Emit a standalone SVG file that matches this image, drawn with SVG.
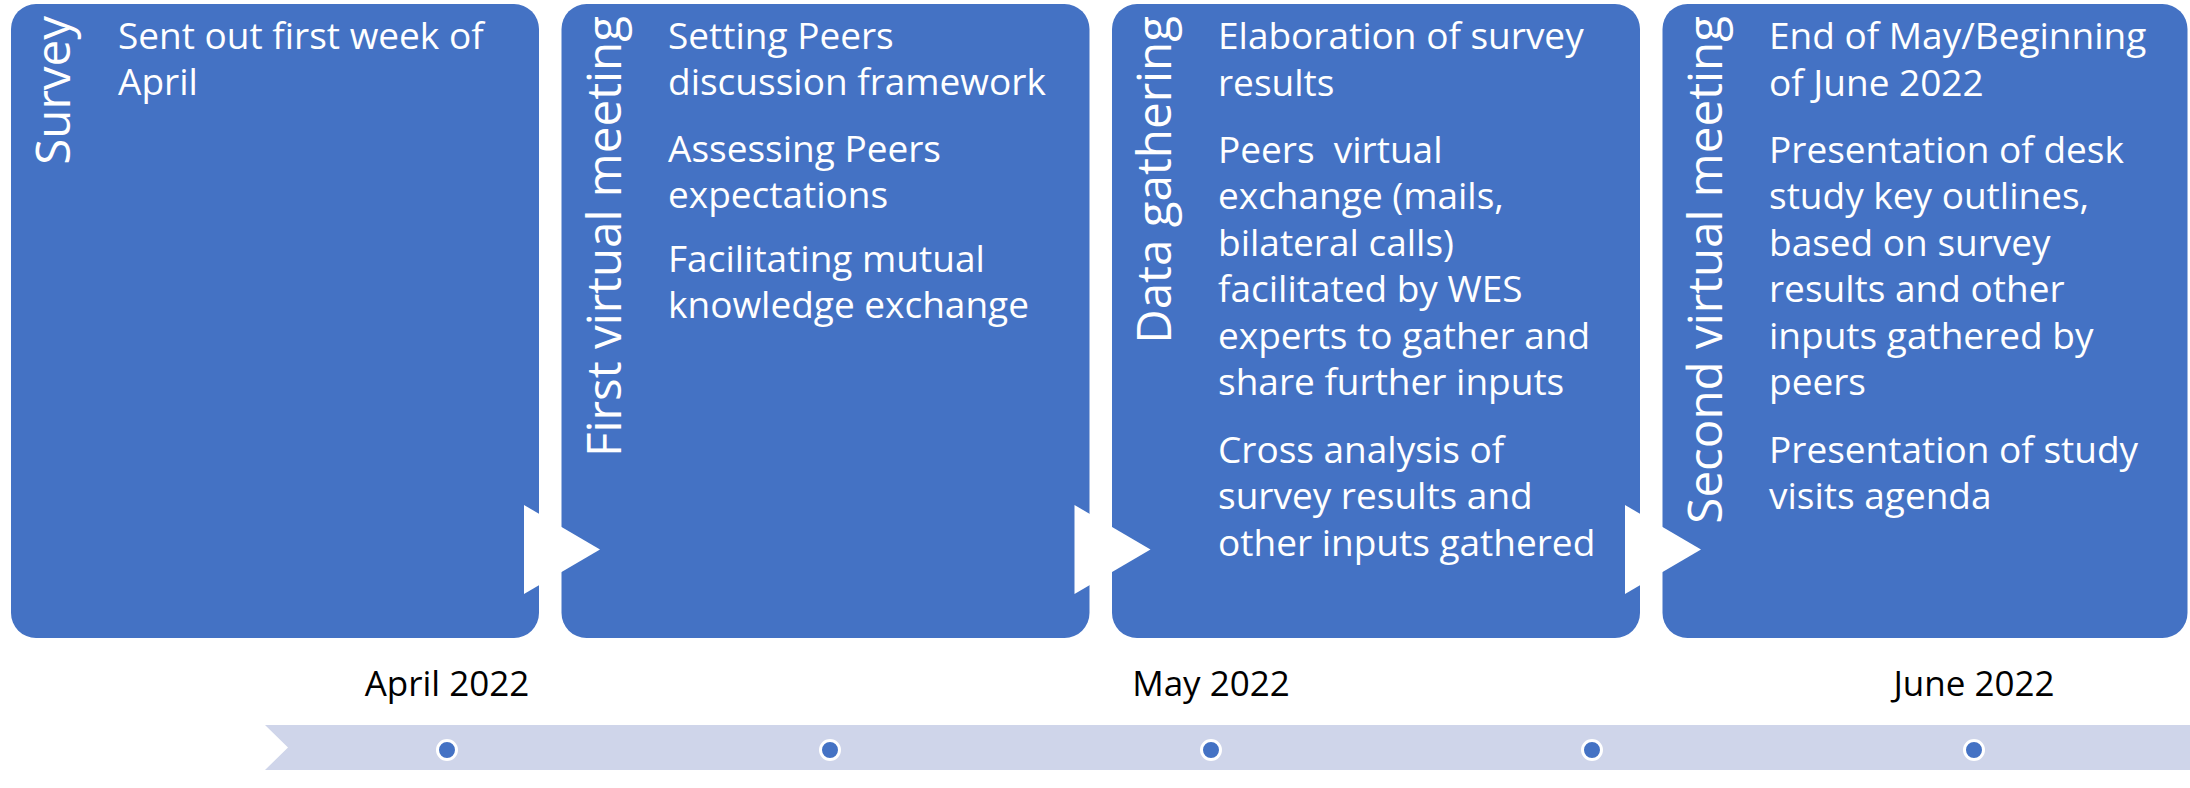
<svg xmlns="http://www.w3.org/2000/svg" width="2190" height="788" viewBox="0 0 2190 788">
<style>
.box{fill:#4472C4}
.tri{fill:#FFFFFF}
.title{font-family:"Open Sans","Liberation Sans",sans-serif;font-size:47.5px;fill:#FFFFFF;text-anchor:end}
.body{font-family:"Open Sans","Liberation Sans",sans-serif;font-size:37px;fill:#FFFFFF}
.month{font-family:"Open Sans","Liberation Sans",sans-serif;font-size:35px;fill:#000000;text-anchor:middle}
.band{fill:#CFD5EA}
.dot{fill:#4472C4;stroke:#FFFFFF;stroke-width:3}
</style>
<rect width="2190" height="788" fill="#FFFFFF"/>
<g id="timeline">
<polygon class="band" points="265,725 2190,725 2190,770 265,770 288,747.5"/>
<circle class="dot" cx="447" cy="750" r="9.5"/>
<circle class="dot" cx="830" cy="750" r="9.5"/>
<circle class="dot" cx="1211" cy="750" r="9.5"/>
<circle class="dot" cx="1592" cy="750" r="9.5"/>
<circle class="dot" cx="1974" cy="750" r="9.5"/>
<text class="month" x="447" y="696">April 2022</text>
<text class="month" x="1211" y="696">May 2022</text>
<text class="month" x="1974" y="696">June 2022</text>
</g>
<g id="node-survey">
<rect class="box" x="11" y="4" width="528" height="634" rx="25"/>
<text class="title" transform="translate(70,16) rotate(-90)">Survey</text>
<text class="body"><tspan x="118" y="49">Sent out first week of</tspan><tspan x="118" y="95">April</tspan></text>
</g>
<g id="node-first-meeting">
<rect class="box" x="561.5" y="4" width="528" height="634" rx="25"/>
<text class="title" transform="translate(620.5,16) rotate(-90)">First virtual meeting</text>
<text class="body"><tspan x="668" y="49">Setting Peers</tspan><tspan x="668" y="95">discussion framework</tspan><tspan x="668" y="162">Assessing Peers</tspan><tspan x="668" y="208">expectations</tspan><tspan x="668" y="272">Facilitating mutual</tspan><tspan x="668" y="318">knowledge exchange</tspan></text>
</g>
<g id="node-data-gathering">
<rect class="box" x="1112" y="4" width="528" height="634" rx="25"/>
<text class="title" transform="translate(1171,16) rotate(-90)">Data gathering</text>
<text class="body"><tspan x="1218" y="49">Elaboration of survey</tspan><tspan x="1218" y="95.5">results</tspan><tspan x="1218" y="162.5" xml:space="preserve">Peers  virtual</tspan><tspan x="1218" y="209">exchange (mails,</tspan><tspan x="1218" y="255.5">bilateral calls)</tspan><tspan x="1218" y="302">facilitated by WES</tspan><tspan x="1218" y="348.5">experts to gather and</tspan><tspan x="1218" y="395">share further inputs</tspan><tspan x="1218" y="462.5">Cross analysis of</tspan><tspan x="1218" y="509">survey results and</tspan><tspan x="1218" y="555.5">other inputs gathered</tspan></text>
</g>
<g id="node-second-meeting">
<rect class="box" x="1662.5" y="4" width="525" height="634" rx="25"/>
<text class="title" transform="translate(1721.5,16) rotate(-90)">Second virtual meeting</text>
<text class="body"><tspan x="1769" y="49">End of May/Beginning</tspan><tspan x="1769" y="95.5">of June 2022</tspan><tspan x="1769" y="162.5">Presentation of desk</tspan><tspan x="1769" y="209">study key outlines,</tspan><tspan x="1769" y="255.5">based on survey</tspan><tspan x="1769" y="302">results and other</tspan><tspan x="1769" y="348.5">inputs gathered by</tspan><tspan x="1769" y="395">peers</tspan><tspan x="1769" y="462.5">Presentation of study</tspan><tspan x="1769" y="509">visits agenda</tspan></text>
</g>
<g id="connectors">
<polygon class="tri" points="524,505 600,549.5 524,594"/>
<polygon class="tri" points="1074.5,505 1150.5,549.5 1074.5,594"/>
<polygon class="tri" points="1625,505 1701,549.5 1625,594"/>
</g>
</svg>
